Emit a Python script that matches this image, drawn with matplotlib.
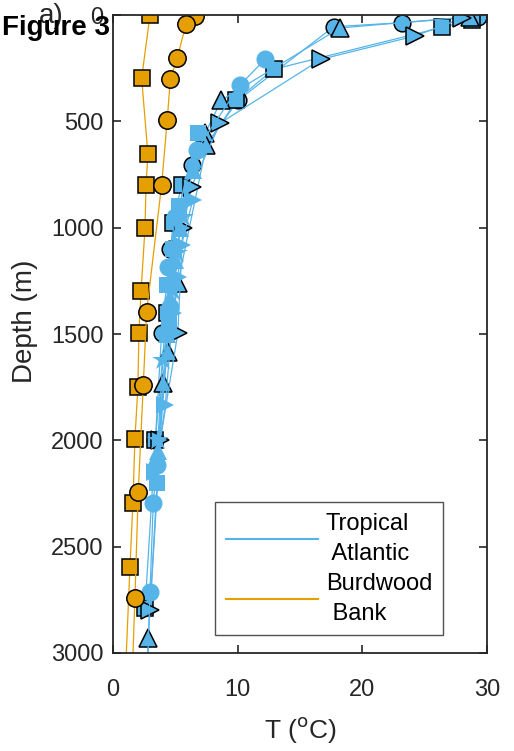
import matplotlib
matplotlib.use('Agg')
import matplotlib.pyplot as plt
import numpy as np

plt.rcParams['font.family'] = ['Liberation Sans', 'DejaVu Sans']

blue = '#56B4E9'
orange = '#E69F00'

# Tropical Atlantic profiles: temperature (degC) and depth (m)
ta_circ_T = [29.3, 23.2, 17.7, 10.05, 6.3, 4.6, 3.9, 3.4]
ta_circ_z = [8, 36, 55, 400, 705, 1100, 1497, 1998]
ta_sq_T = [28.8, 26.4, 12.9, 9.9, 5.5, 4.8, 4.3, 3.4, 2.57]
ta_sq_z = [23, 58, 255, 400, 800, 980, 1400, 2000, 2790]
ta_up_T = [28.6, 18.2, 8.7, 7.4, 7.5, 5.2, 4.4, 4.0, 2.83, 2.7]
ta_up_z = [8, 61, 400, 556, 611, 1262, 1583, 1732, 2931, 3150]
ta_rt_T = [28.0, 24.2, 16.7, 8.6, 6.3, 5.6, 5.2, 3.8, 2.97]
ta_rt_z = [16, 99, 208, 508, 807, 1003, 1496, 1998, 2798]
ta_dot_T = [12.2, 10.2, 6.7, 5.0, 4.4, 4.6, 3.5, 3.23, 2.97, 2.78]
ta_dot_z = [208, 329, 635, 950, 1183, 1372, 2116, 2296, 2712, 3050]
ta_box_T = [6.8, 5.3, 4.8, 4.3, 4.5, 3.5]
ta_box_z = [556, 900, 1100, 1270, 1450, 2200]
ta_tri_T = [6.4, 5.4, 5.0, 4.6, 4.3, 3.6]
ta_tri_z = [729, 1000, 1150, 1330, 1500, 2050]
ta_arr_T = [6.4, 5.5, 5.2, 4.8, 4.2, 3.4]
ta_arr_z = [870, 1080, 1230, 1400, 1834, 2150]
ta_star_T = [5.6, 5.1, 4.8, 4.0, 3.6]
ta_star_z = [950, 1120, 1300, 1622, 2000]

# Burdwood Bank profiles
bb_sq_T = [2.97, 2.3, 2.8, 2.65, 2.57, 2.25, 2.08, 2.0, 1.76, 1.6, 1.36, 1.0]
bb_sq_z = [0, 296, 654, 800, 1002, 1298, 1495, 1749, 1994, 2295, 2596, 3100]
bb_circ_T = [6.6, 5.85, 5.16, 4.6, 4.35, 3.9, 2.7, 2.43, 2.03, 1.76, 1.55]
bb_circ_z = [5, 44, 201, 301, 494, 800, 1395, 1740, 2241, 2741, 3100]

fig = plt.figure(figsize=(5.14, 7.51), dpi=100)
ax = fig.add_axes([0.2198, 0.1305, 0.7277, 0.8495])

ms = 12
edged = dict(mec='k', mew=1.1)
plain = dict(mec=blue, mew=0)

ta_line, = ax.plot(ta_circ_T, ta_circ_z, '-', color=blue, lw=0.9, marker='o',
                   ms=ms, mfc=blue, **edged)
ax.plot(ta_sq_T, ta_sq_z, '-', color=blue, lw=0.9, marker='s', ms=ms - 0.5, mfc=blue, **edged)
ax.plot(ta_up_T, ta_up_z, '-', color=blue, lw=0.9, marker='^', ms=ms + 1, mfc=blue, **edged)
ax.plot(ta_rt_T, ta_rt_z, '-', color=blue, lw=0.9, marker='>', ms=ms + 1, mfc=blue, **edged)
ax.plot(ta_dot_T, ta_dot_z, '-', color=blue, lw=0.9, marker='o', ms=ms + 1, mfc=blue, **plain)
ax.plot(ta_box_T, ta_box_z, '-', color=blue, lw=0.9, marker='s', ms=ms, mfc=blue, **plain)
ax.plot(ta_tri_T, ta_tri_z, '-', color=blue, lw=0.9, marker='^', ms=ms + 1, mfc=blue, **plain)
ax.plot(ta_arr_T, ta_arr_z, '-', color=blue, lw=0.9, marker='>', ms=ms + 1, mfc=blue, **plain)
ax.plot(ta_star_T, ta_star_z, '-', color=blue, lw=0.9, marker='*', ms=ms + 4, mfc=blue, **plain)

bb_line, = ax.plot(bb_sq_T, bb_sq_z, '-', color=orange, lw=0.9, marker='s', ms=ms - 0.5,
                   mfc=orange, mec='k', mew=1.1)
ax.plot(bb_circ_T, bb_circ_z, '-', color=orange, lw=0.9, marker='o', ms=ms + 0.5,
        mfc=orange, mec='k', mew=1.1)

ax.set_xlim(0, 30)
ax.set_ylim(3000, 0)
ax.set_xticks([0, 10, 20, 30])
ax.set_yticks(np.arange(0, 3001, 500))
ax.tick_params(direction='in', length=6, width=1.2, top=True, right=True,
               labelsize=17, colors='#262626')
ax.tick_params(axis='x', pad=19)
ax.tick_params(axis='y', pad=7)
for sp in ax.spines.values():
    sp.set_linewidth(1.3)
    sp.set_color('#262626')

ax.set_xlabel('T ($^{\\rm o}$C)', fontsize=19, color='#262626', labelpad=10)
ax.set_ylabel('Depth (m)', fontsize=20, color='#262626')
ax.yaxis.set_label_coords(-0.2, 0.52)

leg = ax.legend([ta_line, bb_line], ['Tropical\n Atlantic', 'Burdwood\n Bank'],
                loc='lower right', bbox_to_anchor=(0.882, 0.028), fontsize=17,
                handlelength=3.9, handletextpad=0.35, labelspacing=0.35,
                frameon=True, fancybox=False, borderpad=0.45, borderaxespad=0)
leg.get_frame().set_edgecolor('#262626')
leg.get_frame().set_linewidth(1.0)
for h in leg.legend_handles:
    h.set_marker('')
    h.set_linewidth(1.5)
for t in leg.get_texts():
    t.set_linespacing(1.45)

fig.text(0.076, 0.979, 'a)', fontsize=20, color='#262626', ha='left', va='center')
fig.text(0.004, 0.963, 'Figure 3', fontsize=20, fontweight='bold', ha='left', va='center')

fig.savefig('out.png', dpi=100)
